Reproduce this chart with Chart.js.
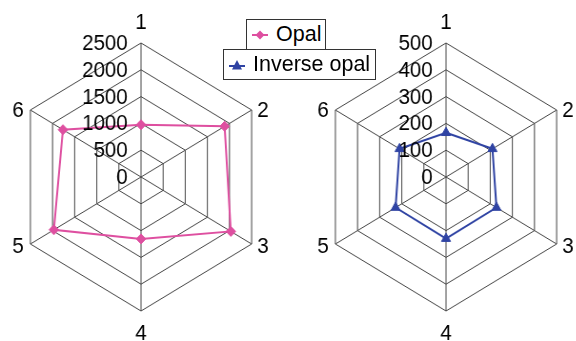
<!DOCTYPE html>
<html>
<head>
<meta charset="utf-8">
<script src="https://cdn.jsdelivr.net/npm/chart.js@4.4.1/dist/chart.umd.min.js"></script>
<style>
  html, body { margin: 0; padding: 0; background: #fff; overflow: hidden; }
  body { width: 576px; height: 341px; position: relative; font-family: "Liberation Sans", Arial, sans-serif; }
  canvas { position: absolute; top: 0; transform: scaleX(0.953); transform-origin: 145px 0; }
  #leftChart { left: -4px; }
  #rightChart { left: 301px; }
  .legend { position: absolute; background: #fff; border: 1px solid #333; display: flex; align-items: center;
            font-size: 21.5px; color: #000; box-sizing: border-box; height: 31px; white-space: nowrap; }
  .legend svg { margin-left: 5px; flex: none; }
  .legend span { margin-left: 8px; }
</style>
</head>
<body>
<canvas id="leftChart" width="290" height="341"></canvas>
<canvas id="rightChart" width="290" height="341"></canvas>

<div class="legend" style="left:246px; top:19px; width:80px;">
  <svg width="16" height="12"><line x1="0" y1="6" x2="16" y2="6" stroke="#de4fa0" stroke-width="2"/><polygon points="8,1.5 12.5,6 8,10.5 3.5,6" fill="#de4fa0"/></svg>
  <span>Opal</span>
</div>
<div class="legend" style="left:223px; top:49px; width:153px;">
  <svg width="16" height="12"><line x1="0" y1="7" x2="16" y2="7" stroke="#2f43a3" stroke-width="2"/><polygon points="8,1 13,10.5 3,10.5" fill="#2f43a3"/></svg>
  <span>Inverse opal</span>
</div>

<script>
const labels = ['1', '2', '3', '4', '5', '6'];
const opalValues = [975, 1890, 2030, 1155, 1970, 1765];
const inverseOpalValues = [165, 210, 228, 230, 228, 210];
const opalTicks = [0, 500, 1000, 1500, 2000, 2500];
const inverseOpalTicks = [0, 100, 200, 300, 400, 500];

const gridColor = '#444';
const textFont = '21.5px "Liberation Sans", Arial, sans-serif';

// tick labels left of the axis, point labels round the hexagon
const radarText = {
  id: 'radarText',
  afterDraw(chart) {
    const r = chart.scales.r;
    const ctx = chart.ctx;
    const tickLabels = chart.options.plugins.radarText.ticks;
    ctx.save();
    ctx.fillStyle = '#000';
    ctx.font = textFont;
    ctx.textBaseline = 'middle';

    ctx.textAlign = 'right';
    tickLabels.forEach(v => {
      ctx.fillText(String(v), r.xCenter - 14, r.yCenter - r.getDistanceFromCenterForValue(v) + 1);
    });

    ctx.textAlign = 'center';
    chart.data.labels.forEach((lab, i) => {
      const p = r.getPointPosition(i, r.drawingArea);
      const c = Math.cos(p.angle), s = Math.sin(p.angle);
      let x = p.x, y = p.y;
      if (Math.abs(c) < 0.1) {
        y += s > 0 ? 22 : -21;
      } else {
        x += c > 0 ? 12 : -13;
        y += s > 0 ? 2 : 0;
      }
      ctx.fillText(lab, x, y + 1);
    });
    ctx.restore();
  }
};

function makeRadar(id, name, values, ticks, color, pointStyle, radius) {
  return new Chart(document.getElementById(id), {
    type: 'radar',
    data: {
      labels: labels,
      datasets: [{
        label: name,
        data: values,
        borderColor: color,
        backgroundColor: color,
        borderWidth: 2,
        fill: false,
        pointStyle: pointStyle,
        pointRadius: radius,
        pointBackgroundColor: color,
        pointBorderColor: color,
        pointBorderWidth: 1
      }]
    },
    options: {
      responsive: false,
      animation: false,
      layout: { padding: { top: 43, bottom: 30, left: 0, right: 0 } },
      plugins: {
        legend: { display: false },
        tooltip: { enabled: false },
        radarText: { ticks: ticks }
      },
      scales: {
        r: {
          min: ticks[0],
          max: ticks[ticks.length - 1],
          ticks: { stepSize: ticks[1] - ticks[0], display: false },
          grid: { color: gridColor, lineWidth: 1 },
          angleLines: { color: gridColor, lineWidth: 1 },
          pointLabels: { display: false }
        }
      }
    },
    plugins: [radarText]
  });
}

makeRadar('leftChart', 'Opal', opalValues, opalTicks, '#de4fa0', 'rectRot', 5);
makeRadar('rightChart', 'Inverse opal', inverseOpalValues, inverseOpalTicks, '#2f43a3', 'triangle', 5.5);
</script>
</body>
</html>
